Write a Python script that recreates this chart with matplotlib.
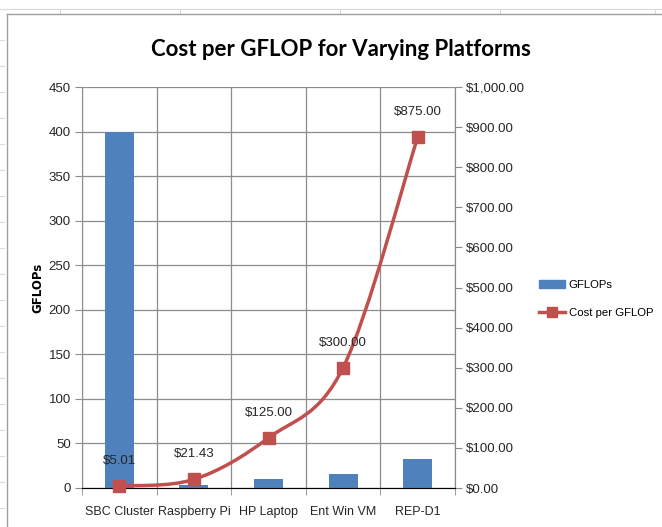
import numpy as np
import matplotlib.pyplot as plt
from matplotlib.path import Path
from matplotlib.patches import PathPatch, Patch
from matplotlib.lines import Line2D

platforms = ['SBC Cluster', 'Raspberry Pi', 'HP Laptop', 'Ent Win VM', 'REP-D1']
gflops = [400, 3, 10, 15.5, 32]
cost = [5.01, 21.43, 125.00, 300.00, 875.00]
cost_labels = ['$5.01', '$21.43', '$125.00', '$300.00', '$875.00']
left_ticks = list(range(0, 451, 50))
right_ticks = list(range(0, 1001, 100))

blue = '#4F81BD'
red = '#C0504D'
grid = '#8C8C8C'
txt = '#262626'

plt.rcParams['font.family'] = ['Liberation Sans', 'DejaVu Sans']

fig = plt.figure(figsize=(6.62, 5.27), dpi=100)

# spreadsheet-ish surroundings
fig.add_artist(Line2D([0, 1], [1 - 9/527, 1 - 9/527], color='#DADADA', lw=0.8))
for xp in [60, 180, 340, 500, 655]:
    fig.add_artist(Line2D([xp/662, xp/662], [1 - 9/527, 1 - 14/527], color='#DADADA', lw=0.8))
for yp in range(40, 527, 26):
    fig.add_artist(Line2D([0, 4/662], [1 - yp/527, 1 - yp/527], color='#DADADA', lw=0.8))
fig.add_artist(Line2D([7/662, 7/662], [0, 1 - 14/527], color='#A0A0A0', lw=1.0))
fig.add_artist(Line2D([7/662, 1], [1 - 14/527, 1 - 14/527], color='#A0A0A0', lw=1.0))

ax = fig.add_axes([82/662, 39/527, 373/662, 401/527])
x = np.arange(len(platforms))
ax.bar(x, gflops, width=0.39, color=blue, zorder=2)
ax.set_xlim(-0.5, len(platforms) - 0.5)
ax.set_ylim(0, 450)
ax.set_yticks(left_ticks)
ax.set_xticks(x)
ax.set_xticklabels(platforms, fontsize=9, color=txt)
ax.set_xticks(np.arange(-0.5, len(platforms), 1), minor=True)
ax.tick_params(axis='x', which='major', length=0, pad=13)
ax.tick_params(axis='x', which='minor', length=5, color=grid)
ax.tick_params(axis='y', length=5, color=grid, labelsize=9.5, labelcolor=txt, pad=3)
ax.grid(axis='y', color=grid, lw=0.9, zorder=0)
ax.grid(axis='x', which='minor', color=grid, lw=0.9, zorder=0)
ax.spines['top'].set_visible(False)
for s in ['left', 'right', 'bottom']:
    ax.spines[s].set_color(grid)
ax.set_ylabel('GFLOPs', fontsize=8.5, fontweight='bold', family='DejaVu Sans', labelpad=3)

ax2 = ax.twinx()
ax2.set_ylim(0, 1000)
ax2.set_yticks(right_ticks)
ax2.set_yticklabels(['${:,.2f}'.format(v) for v in right_ticks])
ax2.tick_params(axis='y', length=5, color=grid, labelsize=9.5, labelcolor=txt, pad=3)
for s in ['top', 'left']:
    ax2.spines[s].set_visible(False)
ax2.spines['right'].set_color(grid)

# smoothed line (Catmull-Rom rendered as cubic beziers)
pts = np.column_stack([x, cost])
verts = [tuple(pts[0])]
codes = [Path.MOVETO]
for i in range(len(pts) - 1):
    p0 = pts[i - 1] if i > 0 else pts[i]
    p1, p2 = pts[i], pts[i + 1]
    p3 = pts[i + 2] if i + 2 < len(pts) else pts[i + 1]
    c1 = p1 + (p2 - p0) / 6
    c2 = p2 - (p3 - p1) / 6
    verts += [tuple(c1), tuple(c2), tuple(p2)]
    codes += [Path.CURVE4] * 3
ax2.add_patch(PathPatch(Path(verts, codes), fill=False, edgecolor=red, lw=2.5, zorder=3))
ax2.plot(x, cost, 's', color=red, ms=8, zorder=4, clip_on=False)
for xi, yi, lab in zip(x, cost, cost_labels):
    ax2.annotate(lab, (xi, yi), xytext=(0, 18), textcoords='offset points',
                 ha='center', va='center', fontsize=9.5, color=txt)

fig.text(341/662, 1 - 49/527, 'Cost per GFLOP for Varying Platforms', ha='center', va='center',
         fontsize=16, fontweight='bold', family=['Lato', 'DejaVu Sans'], color='black')

handles = [Patch(color=blue), Line2D([], [], color=red, lw=2.5, marker='s', ms=7)]
fig.legend(handles, ['GFLOPs', 'Cost per GFLOP'], loc='center left',
           bbox_to_anchor=(539/662, 1 - 299/527), frameon=False, fontsize=8.2,
           handlelength=2.3, labelspacing=1.5, handletextpad=0.3, borderpad=0, borderaxespad=0)

fig.savefig('out.png', dpi=100)
